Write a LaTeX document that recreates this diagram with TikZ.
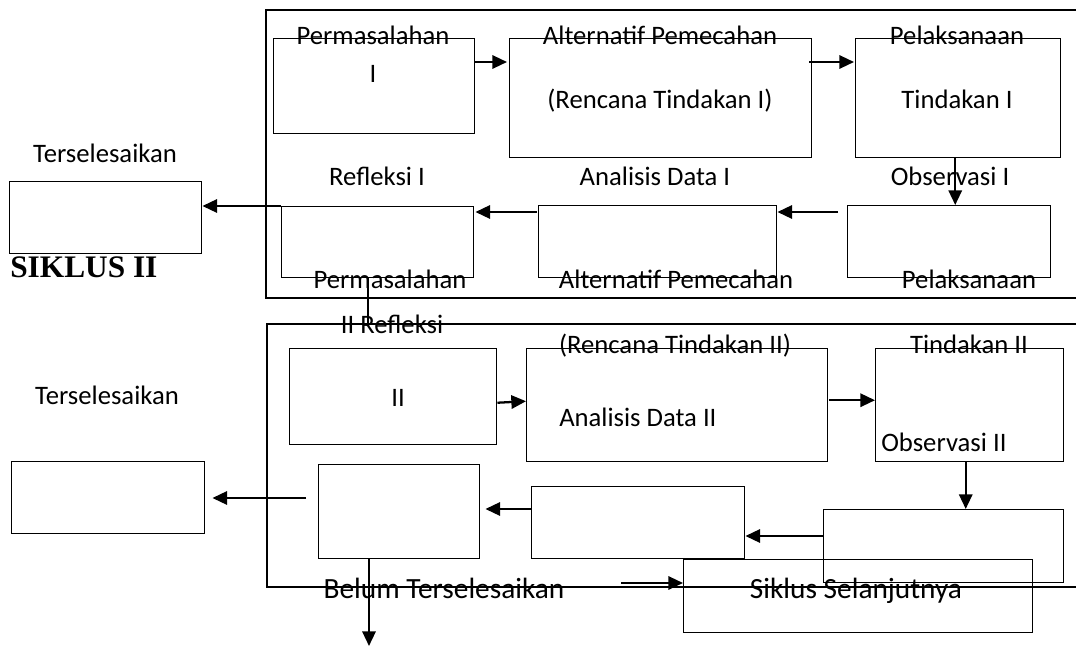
\documentclass[tikz,border=0pt]{standalone}
\usepackage{fontspec}
\setmainfont{Carlito}
\newfontfamily\headfont{Liberation Serif}
\usetikzlibrary{arrows.meta, positioning, calc}

\begin{document}
\begin{tikzpicture}[x=0.75pt, y=-0.75pt, font=\fontsize{20}{24}\selectfont, flow/.style={-{Triangle[length=11pt, width=10pt]}, line width=1.7pt}, stage/.style 2 args={draw, line width=1.1pt, rectangle, anchor=north west, inner sep=0pt, minimum width=#1*0.75pt, minimum height=#2*0.75pt}, cyclepanel/.style={line width=1.6pt}, boxtext/.style={anchor=base, inner sep=0pt}, sidetext/.style={anchor=base west, inner sep=0pt}, bigtext/.style={anchor=base, inner sep=0pt, font=\fontsize{22}{26}\selectfont}]
\useasboundingbox (0,0) rectangle (1076,646);
\draw[cyclepanel] (1076,10) -- (266,10) -- (266,298) -- (1076,298);
\draw[cyclepanel] (1076,324) -- (267,324) -- (267,587) -- (1076,587);
\node[stage={201}{95}] (probA) at (273,38) {};
\node[stage={302}{119}] (altA) at (509,38) {};
\node[stage={205}{119}] (pelA) at (855,38) {};
\node[stage={203}{72}] (obsA) at (847,205) {};
\node[stage={238}{72}] (anaA) at (538,205) {};
\node[stage={192}{71}] (refA) at (281,206) {};
\node[stage={192}{72}] (doneA) at (9,181) {};
\node[stage={207}{96}] (probB) at (289,348) {};
\node[stage={301}{113}] (altB) at (526,348) {};
\node[stage={188}{113}] (pelB) at (875,348) {};
\node[stage={240}{73}] (obsB) at (823,509) {};
\node[stage={213}{72}] (anaB) at (531,486) {};
\node[stage={161}{94}] (refB) at (318,464) {};
\node[stage={193}{72}] (doneB) at (11,461) {};
\node[stage={349}{73}] (nextB) at (683,559) {};
\node[boxtext] (probAtop) at (373,44) {Permasalahan};
\node[boxtext] (probAnum) at (373,82) {I};
\node[boxtext] (altAtop) at (660,44) {Alternatif Pemecahan};
\node[boxtext] (altAsub) at (660,108) {(Rencana Tindakan I)};
\node[boxtext] (pelAtop) at (957,44) {Pelaksanaan};
\node[boxtext] (pelAsub) at (957,108) {Tindakan I};
\node[boxtext] (anaAtop) at (655,185) {Analisis Data I};
\node[boxtext] (obsAtop) at (950,185) {Observasi I};
\node[boxtext] (refAtop) at (377,185) {Refleksi I};
\node[boxtext] (doneAtop) at (105,162) {Terselesaikan};
\node[sidetext, font=\headfont\bfseries\fontsize{23.5}{28}\selectfont] (siklus) at (10,277) {SIKLUS II};
\node[boxtext] (probBtop) at (390,288) {Permasalahan};
\node[boxtext] (altBtop) at (676,288) {Alternatif Pemecahan};
\node[boxtext] (pelBtop) at (969,288) {Pelaksanaan};
\node[boxtext] (refBtop) at (392,333) {II Refleksi};
\node[boxtext] (altBsub) at (675,353) {(Rencana Tindakan II)};
\node[boxtext] (pelBsub) at (969,353) {Tindakan II};
\node[boxtext] (probBnum) at (398,406) {II};
\node[sidetext] (anaBtop) at (559,426) {Analisis Data II};
\node[sidetext] (obsBtop) at (881,451) {Observasi II};
\node[boxtext] (doneBtop) at (107,404) {Terselesaikan};
\node[bigtext] (notdone) at (444,598) {Belum Terselesaikan};
\node[bigtext] (nextBtop) at (856,598) {Siklus Selanjutnya};
\coordinate (refleksiEnd) at (368,323);
\coordinate (belowEnd) at (369,646);
\coordinate (nextStart) at (621,583);
\coordinate (obsAhead) at ($(obsA.north)+(6,0)$);
\coordinate (pelBfoot) at ($(pelB.south)+(-4,0)$);
\draw[flow] ($(probA.north east)+(0,24)$) -- ($(altA.north west)+(-2,24)$);
\draw[flow] ($(altA.north east)+(-3,24)$) -- ($(pelA.north west)+(-1,24)$);
\draw[flow] (obsAhead |- pelA.south) -- (obsAhead);
\draw[flow] ($(obsA.north west)+(-9,7)$) -- ($(anaA.north east)+(0,7)$);
\draw[flow] ($(anaA.north west)+(-1,7)$) -- ($(refA.north east)+(1,6)$);
\draw[flow] (refA.north west) -- (doneA.east |- refA.north west);
\draw[line width=1.7pt] ($(refA.south west)+(87,0)$) -- (refleksiEnd);
\draw[flow] ($(probB.east)+(0,6)$) -- ($(altB.west)+(0,-4)$);
\draw[flow] ($(altB.east)+(1,-5)$) -- ($(pelB.west)+(0,-5)$);
\draw[flow] (pelBfoot) -- (pelBfoot |- obsB.north);
\draw[flow] ($(obsB.north west)+(0,27)$) -- ($(anaB.north east)+(0,50)$);
\draw[flow] ($(anaB.north west)+(0,23)$) -- ($(refB.north east)+(5,45)$);
\draw[flow] ($(refB.north west)+(-12,34)$) -- ($(doneB.north east)+(7,37)$);
\draw[flow] ($(refB.south west)+(51,0)$) -- (belowEnd);
\draw[flow] (nextStart) -- (nextStart -| nextB.west);
\end{tikzpicture}
\end{document}
